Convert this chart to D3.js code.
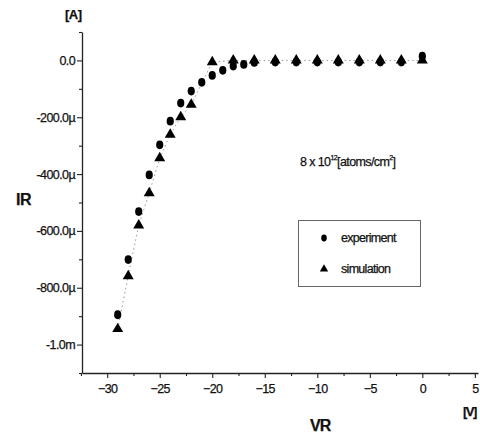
<!DOCTYPE html>
<html>
<head>
<meta charset="utf-8">
<script src="https://cdn.jsdelivr.net/npm/d3@7"></script>
<style>
  body { margin: 0; background: #fff; }
  svg text { font-family: "Liberation Sans", Arial, sans-serif; fill: #111; stroke: #111; stroke-width: 0.25; }
</style>
</head>
<body>
<svg id="chart" width="480" height="437"></svg>
<script>
// voltage (V) and current (µA)
const expV = [-29, -28, -27, -26, -25, -24, -23, -22, -21, -20, -19, -18, -17, -16, -14, -12, -10, -8, -6, -4, -2, 0];
const expI = [-895, -701, -532, -403, -297, -214, -150, -108, -77, -53, -35, -20, -14, -7, -6, -6, -6, -6, -6, -6, -6, 15];
const simV = [-29, -28, -27, -26, -25, -24, -23, -22, -20, -18, -16, -14, -12, -10, -8, -6, -4, -2, 0];
const simI = [-945, -759, -580, -467, -344, -261, -199, -155, -6, 0, 0, 0, 0, 0, 0, 0, 0, 0, 0];

const xTicks = [-30, -25, -20, -15, -10, -5, 0, 5];
const yTicks = [0, -200, -400, -600, -800, -1000];
const yTickLabels = ["0.0", "-200.0µ", "-400.0µ", "-600.0µ", "-800.0µ", "-1.0m"];
const legendNames = ["experiment", "simulation"];

const svg = d3.select("#chart");
const margin = { top: 32, left: 82, right: 2, bottom: 64 };
const width = 480 - margin.left - margin.right,
  height = 437 - margin.top - margin.bottom;

const x = d3.scaleLinear().domain([-32.4, 5.3]).range([margin.left, margin.left + width]);
const y = d3.scaleLinear().domain([-1100, 100]).range([margin.top + height, margin.top]);

// axes
svg.append("g")
  .attr("transform", `translate(0,${y(-1100)})`)
  .call(d3.axisBottom(x).tickValues(xTicks).tickSize(5).tickPadding(6).tickSizeOuter(0));
svg.append("g")
  .attr("transform", `translate(0,${y(-1100)})`)
  .call(d3.axisBottom(x).tickValues(d3.range(-32.5, 5.1, 2.5).filter(v => v % 5 !== 0)).tickSize(3).tickFormat("").tickSizeOuter(0))
  .select(".domain").remove();

svg.append("g")
  .attr("transform", `translate(${x(-32.4)},0)`)
  .call(d3.axisLeft(y).tickValues(yTicks).tickSize(5).tickPadding(2).tickSizeOuter(0)
    .tickFormat((d, i) => yTickLabels[i]));
svg.append("g")
  .attr("transform", `translate(${x(-32.4)},0)`)
  .call(d3.axisLeft(y).tickValues([-1100, -900, -700, -500, -300, -100, 100]).tickSize(3).tickFormat("").tickSizeOuter(0))
  .select(".domain").remove();

svg.selectAll(".domain").attr("stroke", "#222").attr("stroke-width", 1.3);
svg.selectAll(".tick line").attr("stroke", "#222").attr("stroke-width", 1.1);
svg.selectAll(".tick text")
  .attr("font-family", "Liberation Sans, Arial, sans-serif")
  .attr("font-size", 12.5)
  .attr("letter-spacing", -0.6)
  .attr("fill", "#111");

// dotted guide through the simulation
const line = d3.line().x((d, i) => x(simV[i])).y((d, i) => y(simI[i]));
svg.append("path")
  .datum(simV)
  .attr("d", line)
  .attr("fill", "none")
  .attr("stroke", "#999")
  .attr("stroke-width", 1)
  .attr("stroke-dasharray", "1.5,3");

// markers
const circleSym = d3.symbol().type(d3.symbolCircle).size(50);
const triSym = d3.symbol().type(d3.symbolTriangle).size(52);

svg.append("g").selectAll("path")
  .data(expV)
  .enter()
  .append("path")
  .attr("d", circleSym)
  .attr("transform", (d, i) => `translate(${x(d)},${y(expI[i])}) scale(0.9,1.1)`)
  .attr("fill", "#000");

svg.append("g").selectAll("path")
  .data(simV)
  .enter()
  .append("path")
  .attr("d", triSym)
  .attr("transform", (d, i) => `translate(${x(d)},${y(simI[i])})`)
  .attr("fill", "#000");

// axis titles and units
svg.append("text").text("[A]").attr("x", 65).attr("y", 19)
  .attr("font-size", 13).attr("font-weight", "bold").attr("letter-spacing", -0.5);
svg.append("text").text("IR").attr("x", 16).attr("y", 205)
  .attr("font-size", 16).attr("font-weight", "bold").attr("letter-spacing", -0.5);
svg.append("text").text("VR").attr("x", 310).attr("y", 431)
  .attr("font-size", 16).attr("font-weight", "bold").attr("letter-spacing", -1);
svg.append("text").text("[V]").attr("x", 463).attr("y", 416)
  .attr("font-size", 13).attr("font-weight", "bold").attr("letter-spacing", -1.5);

// annotation
const ann = svg.append("text").attr("x", 300).attr("y", 166)
  .attr("font-size", 12.5).attr("letter-spacing", -0.6);
ann.append("tspan").text("8 x 10");
ann.append("tspan").text("12").attr("font-size", 7).attr("dy", -6);
ann.append("tspan").text("[atoms/cm").attr("font-size", 12.5).attr("dy", 6);
ann.append("tspan").text("2").attr("font-size", 7).attr("dy", -6);
ann.append("tspan").text("]").attr("font-size", 12.5).attr("dy", 6);

// legend
const legend = svg.append("g").attr("id", "legend");
legend.append("rect")
  .attr("x", 298.5).attr("y", 220.5).attr("width", 122).attr("height", 66)
  .attr("fill", "none").attr("stroke", "#666").attr("stroke-width", 1);
legendNames.forEach((name, idx) => {
  legend.append("path")
    .attr("d", idx === 0 ? d3.symbol().type(d3.symbolCircle).size(30) : d3.symbol().type(d3.symbolTriangle).size(30))
    .attr("transform", idx === 0 ? `translate(324,${238 + idx * 31}) scale(0.9,1.1)` : `translate(324,${238 + idx * 31})`)
    .attr("fill", "#000");
  legend.append("text").text(name)
    .attr("x", 341).attr("y", 242 + idx * 31)
    .attr("font-size", 12.5).attr("letter-spacing", -0.7);
});
</script>
</body>
</html>
